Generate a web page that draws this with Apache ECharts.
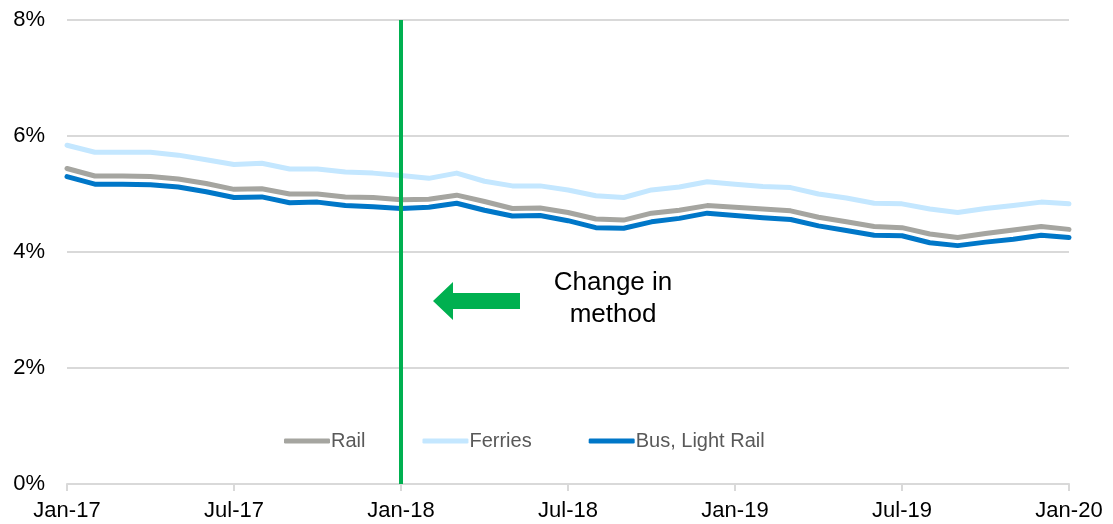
<!DOCTYPE html>
<html>
<head>
<meta charset="utf-8">
<script src="https://cdn.jsdelivr.net/npm/echarts@6/dist/echarts.min.js"></script>
<style>html,body{margin:0;padding:0;background:#fff}#c{width:1113px;height:524px}</style>
</head>
<body>
<div id="c"></div>
<script>
const categories = [
  'Jan-17','Feb-17','Mar-17','Apr-17','May-17','Jun-17','Jul-17','Aug-17','Sep-17','Oct-17','Nov-17','Dec-17',
  'Jan-18','Feb-18','Mar-18','Apr-18','May-18','Jun-18','Jul-18','Aug-18','Sep-18','Oct-18','Nov-18','Dec-18',
  'Jan-19','Feb-19','Mar-19','Apr-19','May-19','Jun-19','Jul-19','Aug-19','Sep-19','Oct-19','Nov-19','Dec-19',
  'Jan-20'
];
const rail = [5.44,5.31,5.31,5.30,5.26,5.18,5.08,5.09,5.00,5.00,4.95,4.94,
              4.90,4.91,4.98,4.87,4.75,4.76,4.68,4.57,4.55,4.67,4.72,4.80,
              4.77,4.74,4.71,4.60,4.52,4.44,4.42,4.31,4.25,4.32,4.38,4.44,4.39];
const ferries = [5.84,5.72,5.72,5.72,5.67,5.59,5.51,5.53,5.43,5.43,5.38,5.36,
                 5.32,5.27,5.36,5.22,5.14,5.14,5.07,4.97,4.94,5.07,5.12,5.21,
                 5.17,5.13,5.11,5.00,4.93,4.84,4.83,4.74,4.68,4.75,4.80,4.86,4.83];
const bus = [5.30,5.17,5.17,5.16,5.12,5.04,4.94,4.95,4.85,4.86,4.80,4.78,
             4.75,4.77,4.84,4.72,4.62,4.63,4.54,4.42,4.41,4.52,4.58,4.67,
             4.63,4.59,4.56,4.45,4.37,4.29,4.28,4.16,4.11,4.17,4.22,4.29,4.25];
const yTicks = [0, 2, 4, 6, 8];
const methodChange = 'Jan-18';

const chart = echarts.init(document.getElementById('c'), null, {renderer: 'canvas'});
const font = 'Arial, "Liberation Sans", sans-serif';
const lineSeries = (name, data, color) => ({
  name, type: 'line', data, symbol: 'none', smooth: false,
  lineStyle: {width: 5, color, cap: 'round', join: 'round'},
  itemStyle: {color}
});
chart.setOption({
  animation: false,
  backgroundColor: '#fff',
  grid: {left: 67, right: 44, top: 20, bottom: 40, containLabel: false},
  legend: {
    left: 284, top: 431, padding: 0,
    itemWidth: 46, itemHeight: 5, itemGap: 57,
    icon: 'roundRect',
    textStyle: {fontFamily: font, fontSize: 20, color: '#595959', padding: [0, 0, 0, -4]},
    data: ['Rail', 'Ferries', 'Bus, Light Rail']
  },
  xAxis: {
    type: 'category', data: categories, boundaryGap: false,
    axisLine: {lineStyle: {color: '#d9d9d9', width: 2}},
    axisTick: {show: true, interval: 5, length: 7, lineStyle: {color: '#d9d9d9', width: 2}},
    axisLabel: {interval: 5, fontFamily: font, fontSize: 22, color: '#000', margin: 16},
    splitLine: {show: false}
  },
  yAxis: {
    type: 'value', min: yTicks[0], max: yTicks[yTicks.length - 1], interval: 2,
    axisLine: {show: false}, axisTick: {show: false},
    axisLabel: {formatter: v => v + '%', fontFamily: font, fontSize: 22, color: '#000', margin: 22},
    splitLine: {lineStyle: {color: '#d9d9d9', width: 2}}
  },
  series: [
    lineSeries('Rail', rail, '#A5A5A0'),
    lineSeries('Ferries', ferries, '#C4E7FF'),
    Object.assign(lineSeries('Bus, Light Rail', bus, '#0077C8'), {
      markLine: {
        symbol: 'none', silent: true, label: {show: false},
        lineStyle: {color: '#00B050', width: 4, type: 'solid'},
        data: [{xAxis: methodChange}]
      }
    })
  ]
});

const mx = chart.convertToPixel({xAxisIndex: 0}, methodChange);
const ax = mx + 32, ay = 301;
chart.setOption({
  graphic: [
    {type: 'polygon', silent: true,
     shape: {points: [[ax, ay], [ax + 20, ay - 19], [ax + 20, ay - 8], [ax + 87, ay - 8], [ax + 87, ay + 8], [ax + 20, ay + 8], [ax + 20, ay + 19]]},
     style: {fill: '#00B050'}},
    {type: 'text', silent: true,
     style: {text: 'Change in\nmethod', x: ax + 180, y: ay - 2, textAlign: 'center', textVerticalAlign: 'middle',
             font: '26px Arial, "Liberation Sans", sans-serif', fill: '#000', lineHeight: 32}}
  ]
});
</script>
</body>
</html>
